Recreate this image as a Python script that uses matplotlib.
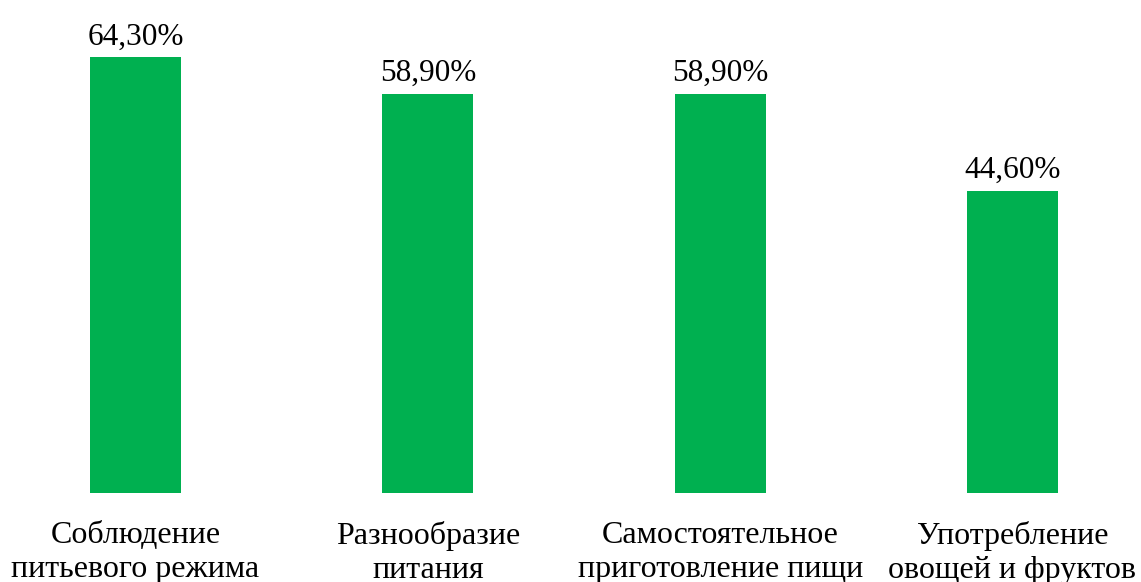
import matplotlib
matplotlib.use("Agg")
import matplotlib.pyplot as plt

categories = ['Соблюдение\nпитьевого режима', 'Разнообразие\nпитания',
              'Самостоятельное\nприготовление пищи', 'Употребление\nовощей и фруктов']
values = [64.3, 58.9, 58.9, 44.6]
labels = ['64,30%', '58,90%', '58,90%', '44,60%']

plt.rcParams['font.family'] = ['Liberation Serif', 'DejaVu Serif']

fig = plt.figure(figsize=(11.41, 5.82), dpi=100)
ax = fig.add_axes([0.0163, 0.1529, 0.9735, 0.8155])

x = range(len(categories))
bars = ax.bar(x, values, width=0.311, color='#00B050')

for b, lab in zip(bars, labels):
    ax.annotate(lab, (b.get_x() + b.get_width() / 2, b.get_height()),
                xytext=(0, 4), textcoords='offset points',
                ha='center', va='bottom', fontsize=22.5)

ax.set_xlim(-0.4, 3.4)
ax.set_ylim(0, 70)
ax.set_xticks(list(x))
ax.set_xticklabels(categories, fontsize=23, linespacing=1.25)
ax.tick_params(axis='x', length=0, pad=20)
ax.set_yticks([])
for s in ax.spines.values():
    s.set_visible(False)

fig.savefig('out.png', dpi=100)
